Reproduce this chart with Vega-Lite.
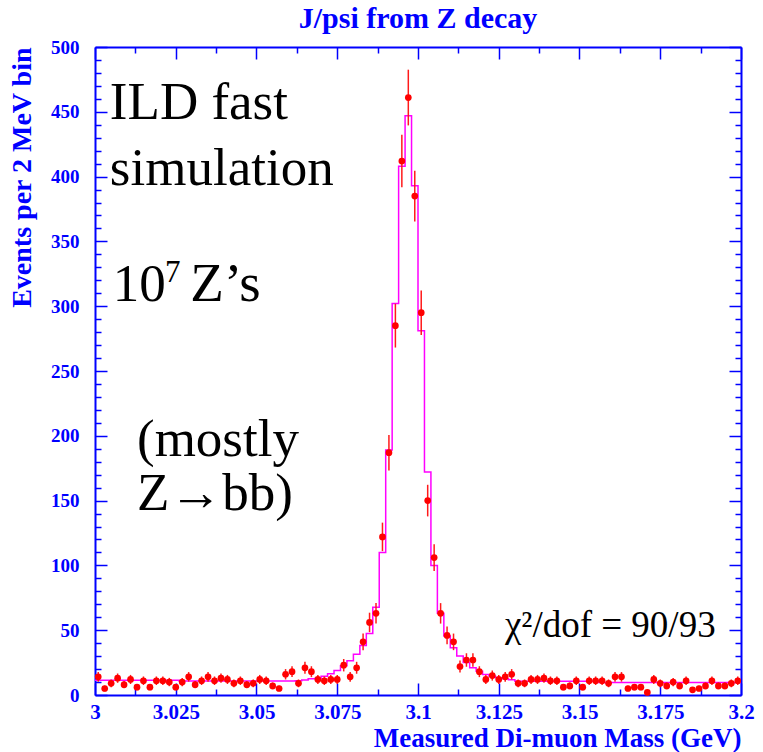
{
  "$schema": "https://vega.github.io/schema/vega-lite/v6.json",
  "width": 646,
  "height": 648,
  "autosize": "none",
  "padding": {"left": 95, "top": 47, "right": 22, "bottom": 57},
  "background": "white",
  "config": {"view": {"stroke": null}, "font": "Liberation Serif"},
  "title": {"text": "J/psi from Z decay", "font": "Liberation Serif", "fontSize": 30, "fontWeight": "bold", "color": "#0000ff", "anchor": "middle", "offset": 4},
  "datasets": {
    "pts": [
      {"m":3.001,"v":14,"e":3.7},{"m":3.003,"v":5,"e":2.2},{"m":3.005,"v":9,"e":3.0},{"m":3.007,"v":13,"e":3.6},{"m":3.009,"v":8,"e":2.8},
      {"m":3.011,"v":12,"e":3.5},{"m":3.013,"v":6,"e":2.4},{"m":3.015,"v":11,"e":3.3},{"m":3.017,"v":6,"e":2.4},{"m":3.019,"v":11,"e":3.3},
      {"m":3.021,"v":11,"e":3.3},{"m":3.023,"v":10,"e":3.2},{"m":3.025,"v":6,"e":2.4},{"m":3.027,"v":10,"e":3.2},{"m":3.029,"v":14,"e":3.7},
      {"m":3.031,"v":8,"e":2.8},{"m":3.033,"v":11,"e":3.3},{"m":3.035,"v":14,"e":3.7},{"m":3.037,"v":11,"e":3.3},{"m":3.039,"v":13,"e":3.6},
      {"m":3.041,"v":12,"e":3.5},{"m":3.043,"v":9,"e":3.0},{"m":3.045,"v":11,"e":3.3},{"m":3.047,"v":8,"e":2.8},{"m":3.049,"v":9,"e":3.0},
      {"m":3.051,"v":12,"e":3.5},{"m":3.053,"v":11,"e":3.3},{"m":3.055,"v":7,"e":2.6},{"m":3.057,"v":5,"e":2.2},{"m":3.059,"v":16,"e":4.0},
      {"m":3.061,"v":18,"e":4.2},{"m":3.063,"v":9,"e":3.0},{"m":3.065,"v":21,"e":4.6},{"m":3.067,"v":18,"e":4.2},{"m":3.069,"v":12,"e":3.5},
      {"m":3.071,"v":11,"e":3.3},{"m":3.073,"v":12,"e":3.5},{"m":3.075,"v":12,"e":3.5},{"m":3.077,"v":23,"e":4.8},{"m":3.079,"v":14,"e":3.7},
      {"m":3.081,"v":21,"e":4.6},{"m":3.083,"v":41,"e":6.4},{"m":3.085,"v":56,"e":7.5},{"m":3.087,"v":63,"e":7.9},{"m":3.089,"v":122,"e":11.0},
      {"m":3.091,"v":187,"e":13.7},{"m":3.093,"v":285,"e":16.9},{"m":3.095,"v":412,"e":20.3},{"m":3.097,"v":461,"e":21.5},{"m":3.099,"v":385,"e":19.6},
      {"m":3.101,"v":295,"e":17.2},{"m":3.103,"v":150,"e":12.2},{"m":3.105,"v":106,"e":10.3},{"m":3.107,"v":63,"e":7.9},{"m":3.109,"v":46,"e":6.8},
      {"m":3.111,"v":41,"e":6.4},{"m":3.113,"v":22,"e":4.7},{"m":3.115,"v":27,"e":5.2},{"m":3.117,"v":27,"e":5.2},{"m":3.119,"v":18,"e":4.2},
      {"m":3.121,"v":12,"e":3.5},{"m":3.123,"v":15,"e":3.9},{"m":3.125,"v":12,"e":3.5},{"m":3.127,"v":14,"e":3.7},{"m":3.129,"v":16,"e":4.0},
      {"m":3.131,"v":9,"e":3.0},{"m":3.133,"v":9,"e":3.0},{"m":3.135,"v":12,"e":3.5},{"m":3.137,"v":12,"e":3.5},{"m":3.139,"v":13,"e":3.6},
      {"m":3.141,"v":11,"e":3.3},{"m":3.143,"v":11,"e":3.3},{"m":3.145,"v":6,"e":2.4},{"m":3.147,"v":7,"e":2.6},{"m":3.149,"v":11,"e":3.3},
      {"m":3.151,"v":6,"e":2.4},{"m":3.153,"v":11,"e":3.3},{"m":3.155,"v":11,"e":3.3},{"m":3.157,"v":11,"e":3.3},{"m":3.159,"v":9,"e":3.0},
      {"m":3.161,"v":14,"e":3.7},{"m":3.163,"v":14,"e":3.7},{"m":3.165,"v":5,"e":2.2},{"m":3.167,"v":6,"e":2.4},{"m":3.169,"v":6,"e":2.4},
      {"m":3.171,"v":2,"e":1.4},{"m":3.173,"v":12,"e":3.5},{"m":3.175,"v":9,"e":3.0},{"m":3.177,"v":7,"e":2.6},{"m":3.179,"v":10,"e":3.2},
      {"m":3.181,"v":7,"e":2.6},{"m":3.183,"v":11,"e":3.3},{"m":3.185,"v":4,"e":2.0},{"m":3.187,"v":5,"e":2.2},{"m":3.189,"v":7,"e":2.6},
      {"m":3.191,"v":11,"e":3.3},{"m":3.193,"v":7,"e":2.6},{"m":3.195,"v":7,"e":2.6},{"m":3.197,"v":9,"e":3.0},{"m":3.199,"v":11,"e":3.3}
    ],
    "fit": [
      {"m":3.000,"v":11.3},{"m":3.002,"v":11.3},{"m":3.004,"v":11.3},{"m":3.006,"v":11.3},{"m":3.008,"v":11.3},
      {"m":3.010,"v":11.3},{"m":3.012,"v":11.3},{"m":3.014,"v":11.3},{"m":3.016,"v":11.3},{"m":3.018,"v":11.3},
      {"m":3.020,"v":11.3},{"m":3.022,"v":11.3},{"m":3.024,"v":11.3},{"m":3.026,"v":10.8},{"m":3.028,"v":10.8},
      {"m":3.030,"v":10.8},{"m":3.032,"v":10.8},{"m":3.034,"v":10.8},{"m":3.036,"v":10.8},{"m":3.038,"v":10.8},
      {"m":3.040,"v":10.8},{"m":3.042,"v":10.8},{"m":3.044,"v":10.8},{"m":3.046,"v":10.8},{"m":3.048,"v":10.8},
      {"m":3.050,"v":10.8},{"m":3.052,"v":10.8},{"m":3.054,"v":10.8},{"m":3.056,"v":10.8},{"m":3.058,"v":10.8},
      {"m":3.060,"v":10.8},{"m":3.062,"v":11.0},{"m":3.064,"v":11.6},{"m":3.066,"v":12.5},{"m":3.068,"v":12.8},
      {"m":3.070,"v":14.5},{"m":3.072,"v":16.4},{"m":3.074,"v":18.9},{"m":3.076,"v":22.6},{"m":3.078,"v":26.5},
      {"m":3.080,"v":31.5},{"m":3.082,"v":38.2},{"m":3.084,"v":47.5},{"m":3.086,"v":67.7},{"m":3.088,"v":110},
      {"m":3.090,"v":189},{"m":3.092,"v":302},{"m":3.094,"v":408},{"m":3.096,"v":447},{"m":3.098,"v":393},
      {"m":3.100,"v":281},{"m":3.102,"v":172},{"m":3.104,"v":100},{"m":3.106,"v":63},{"m":3.108,"v":45.5},
      {"m":3.110,"v":36.4},{"m":3.112,"v":30},{"m":3.114,"v":25},{"m":3.116,"v":21},{"m":3.118,"v":18.4},
      {"m":3.120,"v":15.8},{"m":3.122,"v":14.5},{"m":3.124,"v":13.3},{"m":3.126,"v":12.5},{"m":3.128,"v":11.8},
      {"m":3.130,"v":10.6},{"m":3.132,"v":10.6},{"m":3.134,"v":10.6},{"m":3.136,"v":10.6},{"m":3.138,"v":10.6},
      {"m":3.140,"v":10.6},{"m":3.142,"v":10.6},{"m":3.144,"v":10.6},{"m":3.146,"v":10.6},{"m":3.148,"v":10.6},
      {"m":3.150,"v":10.6},{"m":3.152,"v":10.6},{"m":3.154,"v":10.6},{"m":3.156,"v":9.6},{"m":3.158,"v":9.6},
      {"m":3.160,"v":9.6},{"m":3.162,"v":9.6},{"m":3.164,"v":9.6},{"m":3.166,"v":9.6},{"m":3.168,"v":9.6},
      {"m":3.170,"v":9.6},{"m":3.172,"v":9.6},{"m":3.174,"v":9.6},{"m":3.176,"v":9.6},{"m":3.178,"v":9.6},
      {"m":3.180,"v":9.6},{"m":3.182,"v":9.6},{"m":3.184,"v":9.6},{"m":3.186,"v":9.6},{"m":3.188,"v":9.6},
      {"m":3.190,"v":9.6},{"m":3.192,"v":9.6},{"m":3.194,"v":9.6},{"m":3.196,"v":9.6},{"m":3.198,"v":9.6},
      {"m":3.200,"v":9.6}
    ],
    "one": [{}]
  },
  "layer": [
    {
      "data": {"name": "fit"},
      "mark": {"type": "line", "interpolate": "step-after", "color": "#ff00ff", "strokeWidth": 1.5},
      "encoding": {
        "x": {"field": "m", "type": "quantitative", "scale": {"domain": [3, 3.2], "nice": false, "zero": false},
          "axis": {"orient": "bottom", "values": [3,3.0125,3.025,3.0375,3.05,3.0625,3.075,3.0875,3.1,3.1125,3.125,3.1375,3.15,3.1625,3.175,3.1875,3.2],
            "format": ".4~f", "labelExpr": "round(datum.value*1000) % 25 == 0 ? datum.label : ''",
            "tickSize": {"condition": {"test": "round(datum.value*1000) % 25 == 0", "value": -12}, "value": -6},
            "grid": false, "domainColor": "#0000ff", "domainWidth": 2, "tickColor": "#0000ff", "tickWidth": 1.5,
            "labelColor": "#0000ff", "labelFont": "Liberation Serif", "labelFontWeight": "bold", "labelFontSize": 21,
            "labelFlush": false, "labelOverlap": false, "labelBound": false, "labelPadding": 18,
            "title": "Measured Di-muon Mass (GeV)", "titleAnchor": "end", "titleColor": "#0000ff", "titleFont": "Liberation Serif",
            "titleFontWeight": "bold", "titleFontSize": 27, "titlePadding": -3}},
        "y": {"field": "v", "type": "quantitative", "scale": {"domain": [0, 500], "nice": false},
          "axis": {"orient": "left", "values": [0,10,20,30,40,50,60,70,80,90,100,110,120,130,140,150,160,170,180,190,200,210,220,230,240,250,260,270,280,290,300,310,320,330,340,350,360,370,380,390,400,410,420,430,440,450,460,470,480,490,500],
            "labelExpr": "datum.value % 50 == 0 ? datum.label : ''",
            "tickSize": {"condition": {"test": "datum.value % 50 == 0", "value": -12}, "value": -6},
            "grid": false, "domainColor": "#0000ff", "domainWidth": 2, "tickColor": "#0000ff", "tickWidth": 1.5,
            "labelColor": "#0000ff", "labelFont": "Liberation Serif", "labelFontWeight": "bold", "labelFontSize": 19,
            "labelFlush": false, "labelOverlap": false, "labelBound": false, "labelPadding": 28,
            "title": "Events per 2 MeV bin", "titleAnchor": "end", "titleColor": "#0000ff", "titleFont": "Liberation Serif",
            "titleFontWeight": "bold", "titleFontSize": 28, "titlePadding": 14}}
      }
    },
    {
      "data": {"name": "pts"},
      "mark": {"type": "errorbar", "color": "#ff1a1a", "thickness": 1.5},
      "encoding": {
        "x": {"field": "m", "type": "quantitative", "scale": {"domain": [3, 3.2], "nice": false, "zero": false},
          "axis": {"orient": "top", "values": [3,3.0125,3.025,3.0375,3.05,3.0625,3.075,3.0875,3.1,3.1125,3.125,3.1375,3.15,3.1625,3.175,3.1875,3.2],
            "labels": false, "title": null, "grid": false,
            "tickSize": {"condition": {"test": "round(datum.value*1000) % 25 == 0", "value": -12}, "value": -6},
            "domainColor": "#0000ff", "domainWidth": 2, "tickColor": "#0000ff", "tickWidth": 1.5}},
        "y": {"field": "v", "type": "quantitative", "scale": {"domain": [0, 500], "nice": false},
          "axis": {"orient": "right", "values": [0,10,20,30,40,50,60,70,80,90,100,110,120,130,140,150,160,170,180,190,200,210,220,230,240,250,260,270,280,290,300,310,320,330,340,350,360,370,380,390,400,410,420,430,440,450,460,470,480,490,500],
            "labels": false, "title": null, "grid": false,
            "tickSize": {"condition": {"test": "datum.value % 50 == 0", "value": -12}, "value": -6},
            "domainColor": "#0000ff", "domainWidth": 2, "tickColor": "#0000ff", "tickWidth": 1.5}},
        "yError": {"field": "e"}
      }
    },
    {
      "data": {"name": "pts"},
      "mark": {"type": "circle", "color": "#ff0000", "size": 45, "opacity": 1},
      "encoding": {
        "x": {"field": "m", "type": "quantitative", "scale": {"domain": [3, 3.2], "nice": false, "zero": false}, "axis": null},
        "y": {"field": "v", "type": "quantitative", "scale": {"domain": [0, 500], "nice": false}, "axis": null}
      }
    },
    {
      "data": {"name": "one"},
      "mark": {"type": "text", "text": "ILD fast", "font": "Liberation Serif", "fontSize": 53, "align": "left", "baseline": "alphabetic", "color": "black"},
      "encoding": {"x": {"datum": 3.0046, "type": "quantitative", "axis": null}, "y": {"datum": 444.5, "type": "quantitative", "axis": null}}
    },
    {
      "data": {"name": "one"},
      "mark": {"type": "text", "text": "simulation", "font": "Liberation Serif", "fontSize": 53, "align": "left", "baseline": "alphabetic", "color": "black"},
      "encoding": {"x": {"datum": 3.0046, "type": "quantitative", "axis": null}, "y": {"datum": 393.5, "type": "quantitative", "axis": null}}
    },
    {
      "data": {"name": "one"},
      "mark": {"type": "text", "text": "10", "font": "Liberation Serif", "fontSize": 53, "align": "left", "baseline": "alphabetic", "color": "black"},
      "encoding": {"x": {"datum": 3.0055, "type": "quantitative", "axis": null}, "y": {"datum": 304.3, "type": "quantitative", "axis": null}}
    },
    {
      "data": {"name": "one"},
      "mark": {"type": "text", "text": "7", "font": "Liberation Serif", "fontSize": 31, "align": "left", "baseline": "alphabetic", "color": "black"},
      "encoding": {"x": {"datum": 3.0217, "type": "quantitative", "axis": null}, "y": {"datum": 318.4, "type": "quantitative", "axis": null}}
    },
    {
      "data": {"name": "one"},
      "mark": {"type": "text", "text": "Z’s", "font": "Liberation Serif", "fontSize": 55, "align": "left", "baseline": "alphabetic", "color": "black"},
      "encoding": {"x": {"datum": 3.0295, "type": "quantitative", "axis": null}, "y": {"datum": 304.3, "type": "quantitative", "axis": null}}
    },
    {
      "data": {"name": "one"},
      "mark": {"type": "text", "text": "(mostly", "font": "Liberation Serif", "fontSize": 53, "align": "left", "baseline": "alphabetic", "color": "black"},
      "encoding": {"x": {"datum": 3.013, "type": "quantitative", "axis": null}, "y": {"datum": 184.5, "type": "quantitative", "axis": null}}
    },
    {
      "data": {"name": "one"},
      "mark": {"type": "text", "text": "Z→bb)", "font": "Liberation Serif", "fontSize": 53, "align": "left", "baseline": "alphabetic", "color": "black"},
      "encoding": {"x": {"datum": 3.013, "type": "quantitative", "axis": null}, "y": {"datum": 142.5, "type": "quantitative", "axis": null}}
    },
    {
      "data": {"name": "one"},
      "mark": {"type": "text", "text": "χ²/dof = 90/93", "font": "Liberation Serif", "fontSize": 37, "align": "left", "baseline": "alphabetic", "color": "black"},
      "encoding": {"x": {"datum": 3.1269, "type": "quantitative", "axis": null}, "y": {"datum": 45, "type": "quantitative", "axis": null}}
    }
  ],
  "resolve": {"axis": {"x": "independent", "y": "independent"}}
}
